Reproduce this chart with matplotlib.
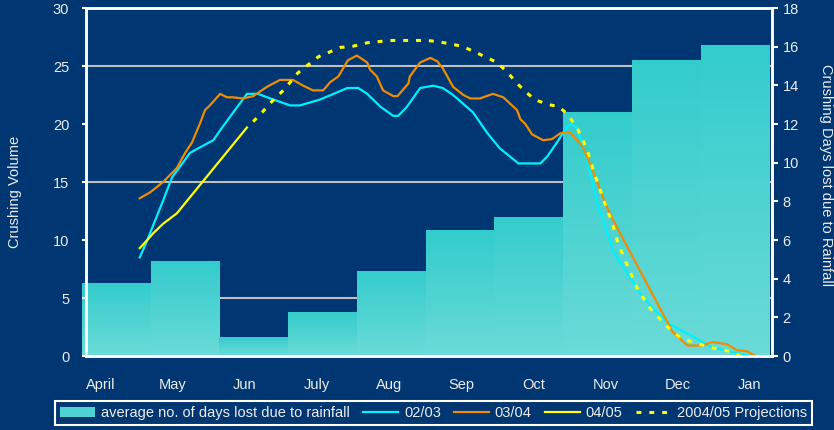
import numpy as np
import matplotlib
matplotlib.use("Agg")
import matplotlib.pyplot as plt
from matplotlib.colors import LinearSegmentedColormap
from matplotlib.lines import Line2D
from matplotlib.patches import Patch
from matplotlib.ticker import MultipleLocator

BG = "#003671"
TXT = "#EDEDED"

months = ["April", "May", "Jun", "July", "Aug", "Sep", "Oct", "Nov", "Dec", "Jan"]

# average days lost due to rainfall (right axis)
days_lost = [3.8, 4.9, 1.0, 2.3, 4.4, 6.5, 7.2, 12.6, 15.3, 16.1]

# crushing volume series, x in months from start of April
x_0203 = [0.84, 0.95, 1.18, 1.31, 1.46, 1.57, 1.72, 1.91, 2.04, 2.20, 2.40, 2.56,
          2.74, 3.03, 3.17, 3.46, 3.86, 4.02, 4.15, 4.34, 4.53, 4.60, 4.73, 4.92,
          5.11, 5.25, 5.40, 5.69, 5.90, 6.08, 6.35, 6.67, 6.77, 6.91, 7.06, 7.13,
          7.21, 7.32, 7.42, 7.51, 7.57, 7.73, 7.93, 8.12, 8.37, 8.56, 8.85, 9.14,
          9.43, 9.62, 9.77]
y_0203 = [8.5, 10.0, 13.4, 15.4, 16.6, 17.5, 18.0, 18.6, 19.7, 21.0, 22.6, 22.6,
          22.2, 21.6, 21.6, 22.1, 23.1, 23.1, 22.6, 21.5, 20.7, 20.7, 21.5, 23.1,
          23.3, 23.1, 22.5, 21.0, 19.2, 17.9, 16.6, 16.6, 17.2, 18.4, 19.8, 20.0,
          19.6, 17.5, 15.2, 12.8, 12.0, 9.0, 7.2, 5.4, 3.7, 2.7, 1.8, 0.8,
          0.4, 0.1, 0.0]

x_0304 = [0.84, 0.99, 1.18, 1.38, 1.50, 1.60, 1.72, 1.79, 1.86, 2.01, 2.11, 2.20,
          2.34, 2.49, 2.69, 2.88, 3.07, 3.22, 3.36, 3.51, 3.61, 3.73, 3.87, 4.00,
          4.15, 4.19, 4.29, 4.38, 4.53, 4.59, 4.75, 4.77, 4.92, 5.07, 5.17, 5.25,
          5.40, 5.55, 5.65, 5.79, 5.98, 6.13, 6.33, 6.38, 6.45, 6.55, 6.71, 6.84,
          6.96, 7.10, 7.29, 7.39, 7.54, 7.64, 7.73, 8.59, 8.81, 9.00, 9.18, 9.39,
          9.53, 9.68, 9.80]
y_0304 = [13.6, 14.1, 15.0, 16.2, 17.5, 18.4, 20.1, 21.2, 21.6, 22.6, 22.3, 22.3,
          22.2, 22.4, 23.2, 23.8, 23.8, 23.3, 22.9, 22.9, 23.6, 24.1, 25.5, 25.9,
          25.3, 24.7, 24.1, 22.9, 22.4, 22.4, 23.5, 24.1, 25.3, 25.7, 25.4, 24.8,
          23.2, 22.5, 22.2, 22.2, 22.6, 22.3, 21.2, 20.4, 20.0, 19.1, 18.6, 18.7,
          19.2, 19.3, 18.0, 16.6, 14.3, 12.8, 11.7, 2.1, 0.9, 0.9, 1.2, 1.0,
          0.5, 0.4, 0.0]

x_0405 = [0.84, 0.95, 1.04, 1.18, 1.38, 2.40]
y_0405 = [9.3, 10.0, 10.6, 11.4, 12.3, 19.7]

x_proj = [2.49, 2.62, 2.74, 2.84, 2.93, 3.03, 3.14, 3.29, 3.44, 3.60, 3.76, 3.94,
          4.15, 4.31, 4.51, 4.82, 5.02, 5.18, 5.36, 5.53, 5.72, 5.90, 6.04, 6.20,
          6.33, 6.45, 6.59, 6.77, 6.93, 7.06, 7.21, 7.35, 7.44, 7.54, 7.64, 7.71,
          7.80, 7.95, 8.09, 8.27, 8.52, 8.70, 8.88, 9.18, 9.43, 9.69]
y_proj = [20.2, 21.0, 21.8, 22.4, 22.9, 23.6, 24.4, 25.1, 25.8, 26.2, 26.6, 26.7,
          27.0, 27.1, 27.2, 27.2, 27.2, 27.1, 26.9, 26.7, 26.2, 25.7, 25.3, 24.4,
          23.5, 22.8, 22.1, 21.7, 21.5, 20.9, 19.6, 17.8, 16.0, 14.3, 12.6, 11.6,
          9.7, 7.6, 5.7, 4.1, 2.5, 1.6, 1.2, 0.7, 0.4, -0.3]

plt.rcParams["font.family"] = ["Liberation Sans", "DejaVu Sans"]
plt.rcParams["font.size"] = 10.5

fig = plt.figure(figsize=(8.34, 4.30), dpi=100)
fig.patch.set_facecolor(BG)
ax = fig.add_axes([86 / 834, 1 - 356 / 430, 686 / 834, 348 / 430])
ax.set_facecolor(BG)
ax2 = ax.twinx()

# bars on the days axis (right), filled with a vertical gradient
cmap = LinearSegmentedColormap.from_list("bar", ["#6ADBD8", "#33CCCC"])
grad = np.linspace(0, 1, 256).reshape(-1, 1)
bars = ax.bar(np.arange(len(days_lost)), days_lost, width=1.0, align="edge",
              color="#4DD3D1", linewidth=0, zorder=1, clip_on=False)
for rect in bars:
    x0, y0 = rect.get_xy()
    im = ax.imshow(grad, extent=[x0, x0 + rect.get_width(), y0, y0 + rect.get_height()],
                   origin="lower", aspect="auto", cmap=cmap, zorder=1.1)
    im.set_clip_path(rect)

ax.set_xlim(0.058, 10.04)
ax.set_ylim(0, 18)
ax.set_axisbelow(True)
ax.yaxis.set_major_locator(MultipleLocator(2))
ax.yaxis.set_minor_locator(MultipleLocator(3))
ax.grid(which="minor", axis="y", color="#BFBFBF", lw=1.5)
ax.yaxis.tick_right()
ax.tick_params(axis="y", which="minor", length=0)
ax.tick_params(axis="y", which="major", direction="out", length=4.5, width=1.5,
               colors="white", labelcolor=TXT, pad=3)

# month labels
ax.set_xticks(np.arange(len(months)) * 1.05 + 0.27)
ax.set_xticklabels(months)
ax.tick_params(axis="x", length=0, pad=16, labelcolor=TXT)

# volume lines on the left axis
ax2.plot(x_0203, y_0203, color="#00F0FF", lw=1.6)
ax2.plot(x_0304, y_0304, color="#F08C00", lw=1.6)
ax2.plot(x_0405, y_0405, color="#FFFF00", lw=1.6)
ax2.plot(x_proj, y_proj, color="#FFFF00", lw=2.2, ls=(0, (1.6, 2.6)), clip_on=False)
ax2.set_ylim(0, 30)
ax2.yaxis.set_major_locator(MultipleLocator(5))
ax2.yaxis.tick_left()
ax2.tick_params(axis="y", direction="out", length=3, width=1.5, colors="white",
                labelcolor=TXT, pad=9)

for a in (ax, ax2):
    for s in a.spines.values():
        s.set_color("white")
        s.set_linewidth(1.8)

fig.text(15 / 834, 1 - 192 / 430, "Crushing Volume", rotation=90, ha="center",
         va="center", color=TXT)
fig.text(826 / 834, 1 - 175 / 430, "Crushing Days lost due to Rainfall", rotation=270,
         ha="center", va="center", color=TXT)

handles = [
    Patch(facecolor="#4DD3D1", edgecolor="none"),
    Line2D([], [], color="#00F0FF", lw=1.6),
    Line2D([], [], color="#F08C00", lw=1.6),
    Line2D([], [], color="#FFFF00", lw=1.6),
    Line2D([], [], color="#FFFF00", lw=2.2, ls=(0, (1.6, 2.6))),
]
labels = ["average no. of days lost due to rainfall", "02/03", "03/04", "04/05",
          "2004/05 Projections"]
leg = fig.legend(handles, labels, loc="center", bbox_to_anchor=(433.5 / 834, 1 - 413 / 430),
                 ncol=5, frameon=True, fancybox=False, facecolor=BG, edgecolor="white",
                 framealpha=1, handlelength=2.4, handletextpad=0.4, columnspacing=0.9,
                 borderpad=0.35)
leg.get_frame().set_linewidth(1.5)
for t in leg.get_texts():
    t.set_color(TXT)

fig.savefig("out.png", dpi=100, facecolor=BG)
